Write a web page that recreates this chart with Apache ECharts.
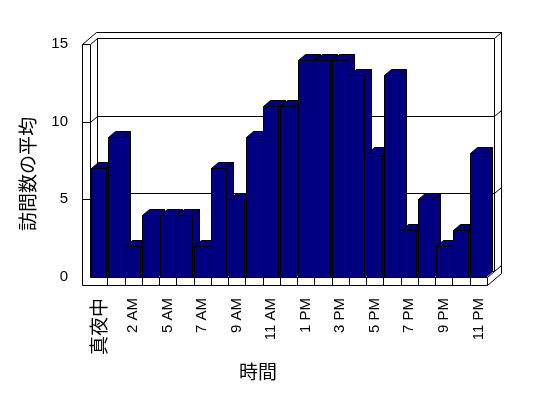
<!DOCTYPE html>
<html><head><meta charset="utf-8">
<script src="https://cdn.jsdelivr.net/npm/echarts@6/dist/echarts.min.js"></script>
<style>html,body{margin:0;padding:0;background:#fff}#c{width:548px;height:398px}</style>
</head><body><div id="c"></div>
<script>
const categories = ['真夜中','1 AM','2 AM','4 AM','5 AM','6 AM','7 AM','8 AM','9 AM','10 AM','11 AM','正午',
  '1 PM','2 PM','3 PM','4 PM','5 PM','6 PM','7 PM','8 PM','9 PM','10 PM','11 PM'];
const visits = [7,9,2,4,4,4,2,7,5,9,11,11,14,14,14,13,8,13,3,5,2,3,8];
const yTicks = [0,5,10,15];
const xTitle = '時間';
const yTitle = '訪問数の平均';

const W = 548, H = 398;
const GL = 90, GR = 61, GT = 44, GB = 121;
const DX = 7, DY = -6, WALL = 8;
const font = "'Liberation Sans', Arial, sans-serif";
const cjk = "'Noto Sans CJK JP', sans-serif";

const chart = echarts.init(document.getElementById('c'), null, {renderer:'canvas'});
const option = {
  backgroundColor:'#fff',
  animation:false,
  grid:{left:GL, right:GR, top:GT, bottom:GB},
  xAxis:{type:'category', data:categories, boundaryGap:true,
    axisLine:{show:false}, axisTick:{show:false}, splitLine:{show:false},
    axisLabel:{interval:1, rotate:90, margin:21, color:'#000', fontSize:15, fontFamily:font,
      formatter: v => /[\u3000-\u9fff]/.test(v) ? '{j|' + v + '}' : v,
      rich:{j:{fontSize:19, fontFamily:cjk, color:'#000'}}}},
  yAxis:{type:'value', min:yTicks[0], max:yTicks[yTicks.length-1], interval:yTicks[1]-yTicks[0],
    axisLine:{show:false}, axisTick:{show:false}, splitLine:{show:false},
    axisLabel:{margin:22, color:'#000', fontSize:15, fontFamily:font}},
  series:[{
    type:'custom', clip:false, z:2,
    data: visits.map((v,i)=>[i,v]),
    encode:{x:0,y:1},
    renderItem:function(params, api){
      const i = api.value(0), v = api.value(1);
      const c = api.coord([i, v]);
      const b = api.coord([i, 0]);
      const w = api.size([1,0])[0];
      const xl = Math.round(c[0] - w/2 + 0.5) + 0.5;
      const xr = xl + Math.round(w - 2.3);
      const yt = Math.round(c[1]) + 0.5, y0 = Math.round(b[1]) + 0.5;
      const st = {fill:'#000080', stroke:'#000', lineWidth:1};
      return {type:'group', children:[
        {type:'polygon', shape:{points:[[xr,yt],[xr+DX,yt+DY],[xr+DX,y0+DY],[xr,y0]]}, style:st},
        {type:'polygon', shape:{points:[[xl,yt],[xl+DX,yt+DY],[xr+DX,yt+DY],[xr,yt]]}, style:st},
        {type:'rect', shape:{x:xl, y:yt, width:xr-xl, height:y0-yt}, style:st}
      ]};
    }
  }]
};
chart.setOption(option);

function buildFrame(){
  const L = GL + 0.5, R = W - GR + 0.5;
  const yp = v => Math.round(chart.convertToPixel({yAxisIndex:0}, v)) + 0.5;
  const T = yp(yTicks[yTicks.length-1]), B = yp(yTicks[0]);
  const LO = L - WALL, FB = B + WALL;
  const ln = {stroke:'#000', lineWidth:1, fill:null};
  const els = [];
  const pl = pts => els.push({type:'polyline', shape:{points:pts}, style:ln, silent:true, z:0});
  els.push({type:'polygon', shape:{points:[[LO,FB],[LO,T],[LO+2*DX,T+2*DY],[R+2*DX,T+2*DY],[R+2*DX,FB+2*DY],[R,FB]]},
    style:{fill:'#fff', stroke:'#000', lineWidth:1}, silent:true, z:0});
  pl([[LO,T],[L,T],[L,B]]);
  pl([[L,T],[L+DX,T+DY],[R+DX,T+DY],[R+DX,B+DY]]);
  pl([[L+DX,T+DY],[L+DX,B+DY],[R+DX,B+DY]]);
  pl([[R+DX,T+DY],[R+2*DX,T+2*DY]]);
  pl([[L,B],[R,B],[R,FB]]);
  pl([[R,B],[R+DX,B+DY],[R+2*DX,B+2*DY]]);
  const n = categories.length;
  for(let i=1;i<n;i++){
    const x = Math.round(GL + i*(W-GR-GL)/n) + 0.5;
    pl([[x,B],[x,FB]]);
  }
  yTicks.slice(1,-1).forEach(v=>{
    const y = yp(v);
    pl([[LO,y],[L,y],[L+DX,y+DY],[R+DX,y+DY],[R+2*DX,y+2*DY]]);
  });
  els.push({type:'text', x:258, y:372, style:{text:xTitle, font:'19px '+cjk, fill:'#000', align:'center', verticalAlign:'middle'}, z:0});
  els.push({type:'text', x:28, y:174, rotation:Math.PI/2, style:{text:yTitle, font:'19px '+cjk, fill:'#000', align:'center', verticalAlign:'middle'}, z:0});
  chart.setOption({graphic:{elements:els}});
}
buildFrame();
</script>
</body></html>
